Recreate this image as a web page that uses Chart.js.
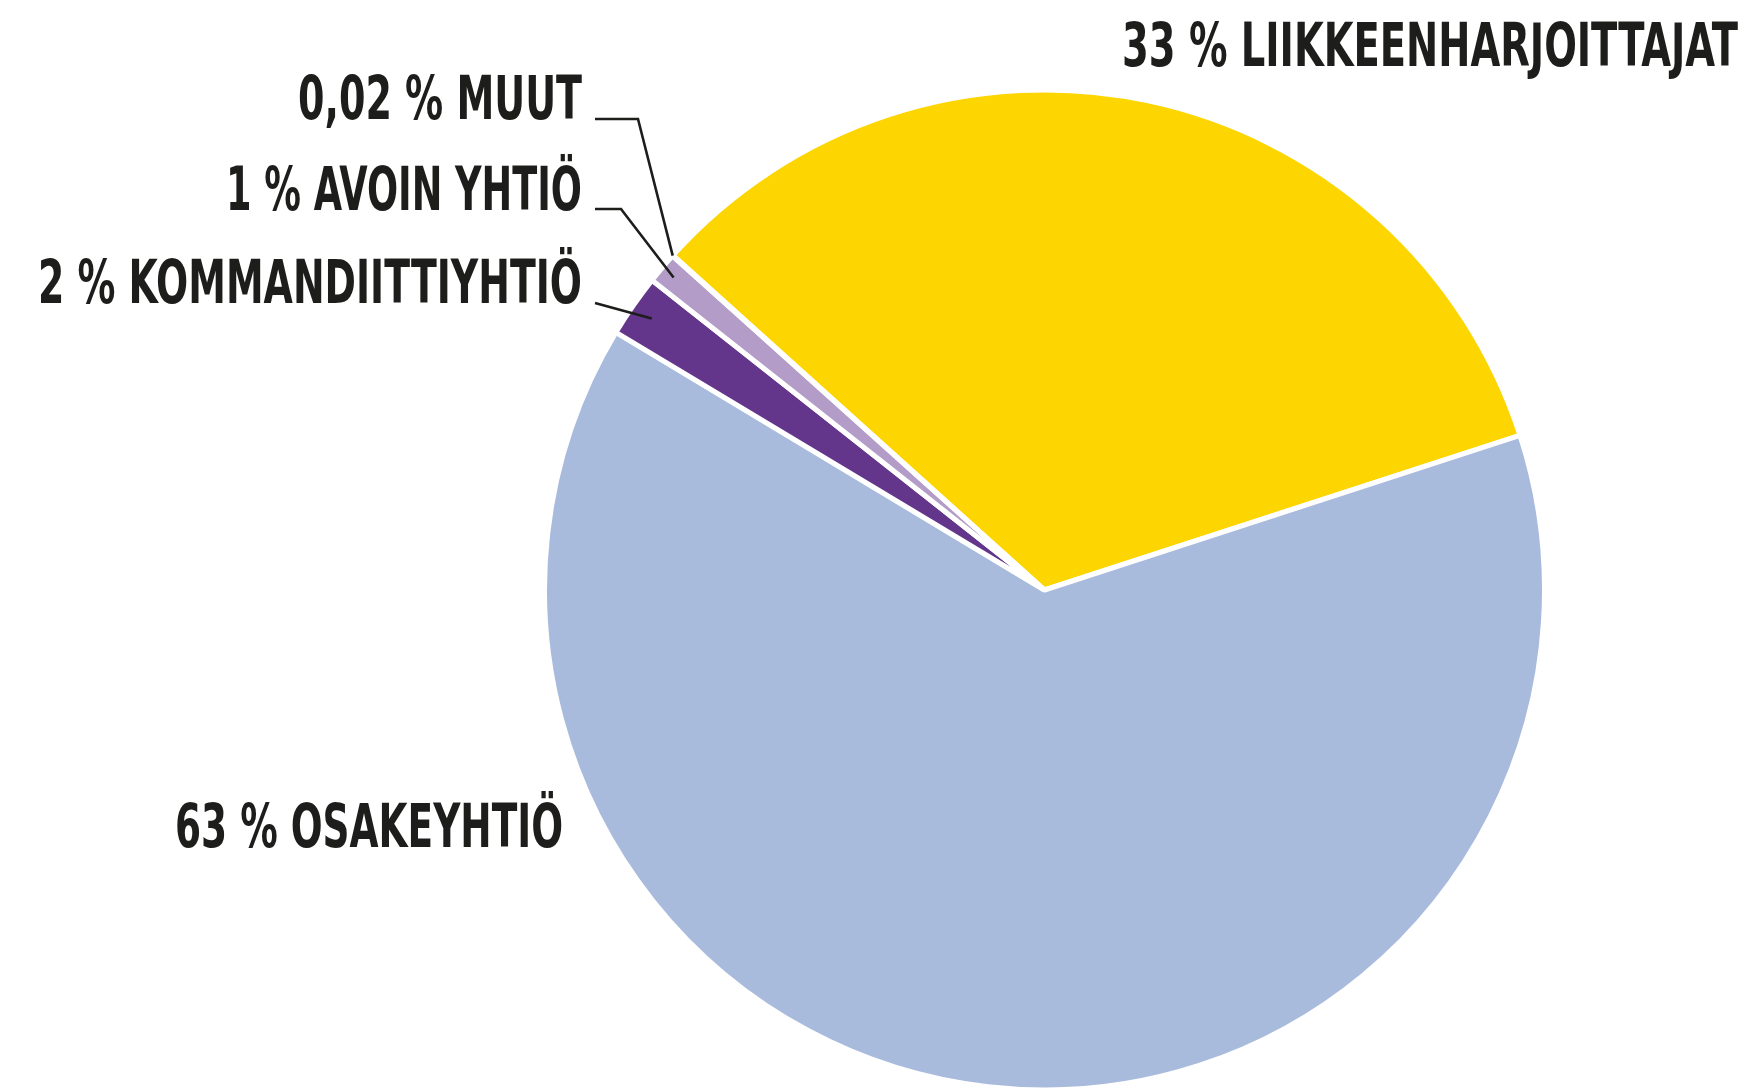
<!DOCTYPE html>
<html lang="fi">
<head>
<meta charset="utf-8">
<title>Yritysmuodot</title>
<script src="https://cdn.jsdelivr.net/npm/chart.js@4.4.1/dist/chart.umd.min.js"></script>
<style>
  html, body { margin: 0; padding: 0; background: #ffffff; }
  #wrap { width: 1751px; height: 1088px; }
</style>
</head>
<body>
<div id="wrap"><canvas id="yritysmuodotChart" width="1751" height="1088"></canvas></div>
<script>
// Data luettu kuvasta
const categories = ['LIIKKEENHARJOITTAJAT', 'OSAKEYHTIÖ', 'KOMMANDIITTIYHTIÖ', 'AVOIN YHTIÖ', 'MUUT'];
const shares = [33, 63, 2, 1, 0.02];
const shareLabels = ['33 %', '63 %', '2 %', '1 %', '0,02 %'];

const sliceColors = ['#FDD500', '#A9BBDD', '#63368C', '#B39DC8', '#B39DC8'];
const textColor = '#1d1d1b';
const labelFont = 'bold 60px "DejaVu Sans Condensed", "DejaVu Sans", sans-serif';

// Tekstien sijainnit (x, y = perusviiva, w = leveys), viivan alku ja mutka
const labelLayout = [
  { x: 1122, y: 66, w: 616, align: 'left' },
  { x: 563, y: 847, w: 388, align: 'right' },
  { x: 582, y: 303, w: 544, align: 'right', lineFrom: [595, 303], elbow: null, depth: 0.955 },
  { x: 582, y: 210, w: 356, align: 'right', lineFrom: [595, 209], elbow: [621, 209], depth: 0.97 },
  { x: 582, y: 119, w: 284, align: 'right', lineFrom: [595, 119], elbow: [638, 119], depth: 1.0 }
];

// Piirretään tekstit ja viivat itse
const labelPlugin = {
  id: 'sliceLabels',
  afterDatasetsDraw(chart) {
    const ctx = chart.ctx;
    const arcs = chart.getDatasetMeta(0).data;
    ctx.save();
    ctx.fillStyle = textColor;
    ctx.strokeStyle = textColor;
    ctx.font = labelFont;
    ctx.textBaseline = 'alphabetic';
    arcs.forEach((arc, i) => {
      const l = labelLayout[i];
      const text = shareLabels[i] + ' ' + categories[i];
      ctx.textAlign = l.align;
      ctx.fillText(text, l.x, l.y, l.w);
      if (l.lineFrom) {
        const p = arc.getProps(['x', 'y', 'startAngle', 'endAngle', 'outerRadius'], true);
        const mid = (p.startAngle + p.endAngle) / 2;
        const r = p.outerRadius * l.depth;
        ctx.lineWidth = 2.6;
        ctx.beginPath();
        ctx.moveTo(l.lineFrom[0], l.lineFrom[1]);
        if (l.elbow) ctx.lineTo(l.elbow[0], l.elbow[1]);
        ctx.lineTo(p.x + Math.cos(mid) * r, p.y + Math.sin(mid) * r);
        ctx.stroke();
      }
    });
    ctx.restore();
  }
};

const ctx = document.getElementById('yritysmuodotChart').getContext('2d');
const yritysChart = new Chart(ctx, {
  type: 'pie',
  data: {
    labels: categories,
    datasets: [{
      data: shares,
      backgroundColor: sliceColors,
      borderColor: '#ffffff',
      borderWidth: 5
    }]
  },
  options: {
    responsive: false,
    animation: false,
    rotation: -48,
    radius: 500,
    layout: { padding: { left: 547, right: 209, top: 92, bottom: 0 } },
    plugins: {
      legend: { display: false },
      tooltip: { enabled: false }
    }
  },
  plugins: [labelPlugin]
});
</script>
</body>
</html>
